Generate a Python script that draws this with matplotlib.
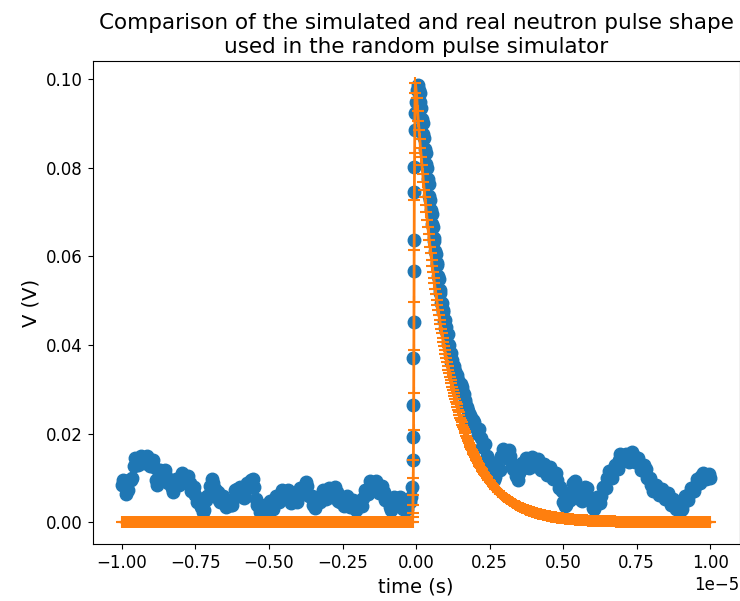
import numpy as np
import matplotlib
matplotlib.use("Agg")
import matplotlib.pyplot as plt

# ================= data (time in units of 1e-5 s, voltage in V) =================
UNIT = 1e-5

# real neutron pulse (measured), baseline before the pulse
real_pre_t = np.round(np.linspace(-1.00, -0.04, 97), 3)
real_pre_v = [
    0.0085, 0.0080, 0.0072, 0.0095, 0.0128, 0.0140, 0.0145, 0.0143, 0.0146, 0.0140,
    0.0138, 0.0125, 0.0085, 0.0118, 0.0110, 0.0104, 0.0092, 0.0078, 0.0082, 0.0090,
    0.0098, 0.0104, 0.0100, 0.0088, 0.0075, 0.0062, 0.0050, 0.0035, 0.0027, 0.0060,
    0.0082, 0.0088, 0.0070, 0.0050, 0.0058, 0.0045, 0.0040, 0.0038, 0.0055, 0.0075,
    0.0079, 0.0058, 0.0070, 0.0085, 0.0095, 0.0080, 0.0040, 0.0023, 0.0030, 0.0027,
    0.0035, 0.0040, 0.0045, 0.0055, 0.0060, 0.0066, 0.0065, 0.0058, 0.0054, 0.0052,
    0.0060, 0.0072, 0.0078, 0.0081, 0.0060, 0.0040, 0.0045, 0.0052, 0.0058, 0.0064,
    0.0066, 0.0068, 0.0070, 0.0068, 0.0045, 0.0046, 0.0049, 0.0047, 0.0042, 0.0038,
    0.0036, 0.0040, 0.0055, 0.0068, 0.0078, 0.0083, 0.0084, 0.0078, 0.0074, 0.0068,
    0.0050, 0.0034, 0.0040, 0.0052, 0.0054, 0.0042, 0.0038,
]
# samples in between (the noise makes the baseline band thick)
real_pre2_t = np.round(np.linspace(-0.995, -0.045, 96), 3)
real_pre2_v = [
    0.0095, 0.0064, 0.0096, 0.0100, 0.0146, 0.0130, 0.0150, 0.0133, 0.0150, 0.0127,
    0.0140, 0.0095, 0.0112, 0.0102, 0.0118, 0.0088, 0.0094, 0.0068, 0.0097, 0.0083,
    0.0112, 0.0091, 0.0104, 0.0070, 0.0080, 0.0045, 0.0052, 0.0022, 0.0050, 0.0062,
    0.0097, 0.0074, 0.0068, 0.0046, 0.0060, 0.0035, 0.0048, 0.0040, 0.0073, 0.0068,
    0.0078, 0.0055, 0.0088, 0.0080, 0.0098, 0.0052, 0.0040, 0.0020, 0.0040, 0.0024,
    0.0048, 0.0031, 0.0060, 0.0046, 0.0073, 0.0054, 0.0072, 0.0044, 0.0063, 0.0045,
    0.0078, 0.0064, 0.0090, 0.0060, 0.0060, 0.0033, 0.0058, 0.0045, 0.0072, 0.0053,
    0.0078, 0.0058, 0.0080, 0.0047, 0.0056, 0.0037, 0.0060, 0.0035, 0.0050, 0.0027,
    0.0048, 0.0036, 0.0072, 0.0063, 0.0092, 0.0072, 0.0092, 0.0065, 0.0082, 0.0050,
    0.0052, 0.0027, 0.0056, 0.0043, 0.0058, 0.0030,
]

# rising edge of the real pulse
real_rise_t = [-0.030, -0.022, -0.016, -0.013, -0.011, -0.010, -0.0095, -0.009, -0.0085,
               -0.008, -0.0075, -0.007, -0.006, -0.005, -0.003, 0.000, 0.004, 0.008]
real_rise_v = [0.0030, 0.0045, 0.0056, 0.0079, 0.0140, 0.0192, 0.0264, 0.0370, 0.0451,
               0.0567, 0.0637, 0.0745, 0.0801, 0.0885, 0.0923, 0.0948, 0.0975, 0.0986]

# decay of the real pulse
real_decay_t = np.round(np.linspace(0.010, 0.200, 39), 4)
real_decay_v = [
    0.0975, 0.0948, 0.0910, 0.0875, 0.0842, 0.0808, 0.0775, 0.0735, 0.0705, 0.0672,
    0.0642, 0.0612, 0.0585, 0.0556, 0.0525, 0.0494, 0.0478, 0.0455, 0.0438, 0.0424,
    0.0402, 0.0380, 0.0362, 0.0348, 0.0335, 0.0325, 0.0316, 0.0305, 0.0300, 0.0298,
    0.0290, 0.0275, 0.0262, 0.0250, 0.0240, 0.0232, 0.0225, 0.0220, 0.0215,
]
real_decay2_t = np.round(np.linspace(0.0125, 0.1975, 38), 4)
real_decay2_v = [
    0.0968, 0.0935, 0.0900, 0.0866, 0.0832, 0.0800, 0.0762, 0.0728, 0.0696,
    0.0665, 0.0635, 0.0606, 0.0580, 0.0548, 0.0518, 0.0495, 0.0475, 0.0456, 0.0440,
    0.0425, 0.0400, 0.0382, 0.0366, 0.0352, 0.0341, 0.0332, 0.0322, 0.0315, 0.0312,
    0.0305, 0.0290, 0.0272, 0.0260, 0.0250, 0.0242, 0.0236, 0.0230, 0.0226,
]

# tail of the real pulse
real_tail_t = np.round(np.linspace(0.21, 1.00, 80), 3)
real_tail_v = [
    0.0200, 0.0190, 0.0175, 0.0150, 0.0130, 0.0105, 0.0102, 0.0120, 0.0150, 0.0156,
    0.0155, 0.0150, 0.0120, 0.0105, 0.0110, 0.0133, 0.0135, 0.0130, 0.0136, 0.0138,
    0.0135, 0.0130, 0.0125, 0.0120, 0.0117, 0.0112, 0.0105, 0.0095, 0.0080, 0.0045,
    0.0040, 0.0050, 0.0070, 0.0092, 0.0075, 0.0050, 0.0065, 0.0077, 0.0055, 0.0032,
    0.0045, 0.0050, 0.0060, 0.0080, 0.0100, 0.0110, 0.0115, 0.0125, 0.0140, 0.0150,
    0.0149, 0.0140, 0.0150, 0.0149, 0.0140, 0.0132, 0.0125, 0.0120, 0.0100, 0.0085,
    0.0075, 0.0072, 0.0068, 0.0065, 0.0060, 0.0052, 0.0045, 0.0040, 0.0035, 0.0028,
    0.0045, 0.0055, 0.0065, 0.0075, 0.0085, 0.0095, 0.0104, 0.0108, 0.0104, 0.0099,
]
real_tail2_t = np.round(np.linspace(0.215, 0.995, 79), 3)
real_tail2_v = [
    0.0210, 0.0170, 0.0176, 0.0128, 0.0135, 0.0095, 0.0124, 0.0118, 0.0165, 0.0145,
    0.0162, 0.0128, 0.0130, 0.0095, 0.0130, 0.0122, 0.0145, 0.0122, 0.0147, 0.0126,
    0.0142, 0.0118, 0.0132, 0.0107, 0.0125, 0.0098, 0.0110, 0.0078, 0.0070, 0.0036,
    0.0055, 0.0050, 0.0088, 0.0075, 0.0070, 0.0048, 0.0080, 0.0058, 0.0052, 0.0030,
    0.0058, 0.0044, 0.0080, 0.0078, 0.0115, 0.0100, 0.0130, 0.0120, 0.0155, 0.0138,
    0.0155, 0.0135, 0.0158, 0.0135, 0.0145, 0.0118, 0.0130, 0.0100, 0.0100, 0.0070,
    0.0085, 0.0062, 0.0076, 0.0052, 0.0066, 0.0040, 0.0052, 0.0030, 0.0040, 0.0030,
    0.0060, 0.0050, 0.0078, 0.0070, 0.0098, 0.0088, 0.0112, 0.0098, 0.0108,
]

# simulated pulse: flat zero before the pulse
sim_pre_t = np.round(np.arange(-1.0, -0.0125, 0.005), 4)
sim_pre_v = np.zeros(len(sim_pre_t))

# simulated pulse: rising edge
sim_rise_t = [-0.0120, -0.0115, -0.0110, -0.0105, -0.0100, -0.0095, -0.0090, -0.0085,
              -0.0080, -0.0075, -0.0070, -0.0065, -0.0060, -0.0050, -0.0035, -0.0020]
sim_rise_v = [0.0000, 0.0011, 0.0020, 0.0038, 0.0061, 0.0099, 0.0140, 0.0208,
              0.0291, 0.0389, 0.0497, 0.0615, 0.0728, 0.0834, 0.0968, 0.0991]

# simulated pulse: decay
sim_decay_t = np.round(np.linspace(0.005, 1.000, 200), 4)
sim_decay_v = [
    0.09277, 0.08850, 0.08442, 0.08053, 0.07682, 0.07328, 0.06990, 0.06668, 0.06361, 0.06068,
    0.05788, 0.05521, 0.05267, 0.05024, 0.04793, 0.04572, 0.04361, 0.04160, 0.03969, 0.03786,
    0.03611, 0.03445, 0.03286, 0.03135, 0.02990, 0.02853, 0.02721, 0.02596, 0.02476, 0.02362,
    0.02253, 0.02150, 0.02051, 0.01956, 0.01866, 0.01780, 0.01698, 0.01620, 0.01545, 0.01474,
    0.01406, 0.01341, 0.01279, 0.01220, 0.01164, 0.01111, 0.01059, 0.01011, 0.00964, 0.00920,
    0.00877, 0.00837, 0.00798, 0.00761, 0.00726, 0.00693, 0.00661, 0.00630, 0.00601, 0.00574,
    0.00547, 0.00522, 0.00498, 0.00475, 0.00453, 0.00432, 0.00412, 0.00393, 0.00375, 0.00358,
    0.00341, 0.00326, 0.00311, 0.00296, 0.00283, 0.00270, 0.00257, 0.00245, 0.00234, 0.00223,
    0.00213, 0.00203, 0.00194, 0.00185, 0.00176, 0.00168, 0.00160, 0.00153, 0.00146, 0.00139,
    0.00133, 0.00127, 0.00121, 0.00115, 0.00110, 0.00105, 0.00100, 0.00095, 0.00091, 0.00087,
    0.00083, 0.00079, 0.00076, 0.00072, 0.00069, 0.00066, 0.00063, 0.00060, 0.00057, 0.00054,
    0.00052, 0.00049, 0.00047, 0.00045, 0.00043, 0.00041, 0.00039, 0.00037, 0.00036, 0.00034,
    0.00032, 0.00031, 0.00029, 0.00028, 0.00027, 0.00026, 0.00024, 0.00023, 0.00022, 0.00021,
    0.00020, 0.00019, 0.00018, 0.00018, 0.00017, 0.00016, 0.00015, 0.00015, 0.00014, 0.00013,
    0.00013, 0.00012, 0.00011, 0.00011, 0.00010, 0.00010, 0.00010, 0.00009, 0.00009, 0.00008,
    0.00008, 0.00008, 0.00007, 0.00007, 0.00007, 0.00006, 0.00006, 0.00006, 0.00005, 0.00005,
    0.00005, 0.00005, 0.00004, 0.00004, 0.00004, 0.00004, 0.00004, 0.00004, 0.00003, 0.00003,
    0.00003, 0.00003, 0.00003, 0.00003, 0.00003, 0.00002, 0.00002, 0.00002, 0.00002, 0.00002,
    0.00002, 0.00002, 0.00002, 0.00002, 0.00002, 0.00002, 0.00001, 0.00001, 0.00001, 0.00001,
    0.00001, 0.00001, 0.00001, 0.00001, 0.00001, 0.00001, 0.00001, 0.00001, 0.00001, 0.00001,
]
# extra simulated samples in the fast part of the decay
sim_decay2_t = np.round(np.linspace(0.0025, 0.2975, 60), 4)
sim_decay2_v = [
    0.09560, 0.09061, 0.08644, 0.08245, 0.07865, 0.07503, 0.07157, 0.06827, 0.06513, 0.06213,
    0.05926, 0.05653, 0.05393, 0.05144, 0.04907, 0.04681, 0.04465, 0.04259, 0.04063, 0.03876,
    0.03697, 0.03527, 0.03365, 0.03210, 0.03062, 0.02921, 0.02786, 0.02658, 0.02535, 0.02418,
    0.02307, 0.02201, 0.02100, 0.02003, 0.01911, 0.01823, 0.01739, 0.01659, 0.01582, 0.01509,
    0.01440, 0.01373, 0.01310, 0.01249, 0.01192, 0.01137, 0.01085, 0.01035, 0.00987, 0.00942,
    0.00898, 0.00857, 0.00817, 0.00779, 0.00743, 0.00709, 0.00677, 0.00645, 0.00615, 0.00587,
]

real_t = np.concatenate([real_pre_t, real_pre2_t, real_rise_t, real_decay_t,
                         real_decay2_t, real_tail_t, real_tail2_t]) * UNIT
real_v = np.concatenate([real_pre_v, real_pre2_v, real_rise_v, real_decay_v,
                         real_decay2_v, real_tail_v, real_tail2_v])

sim_t = np.concatenate([sim_pre_t, sim_rise_t, sim_decay_t, sim_decay2_t])
sim_v = np.concatenate([sim_pre_v, sim_rise_v, sim_decay_v, sim_decay2_v])
order = np.argsort(sim_t, kind='stable')
sim_t = sim_t[order] * UNIT
sim_v = sim_v[order]

# ================= plot =================
fig, ax = plt.subplots(figsize=(7.4, 6.01), dpi=100)
ax.plot(real_t, real_v, 'o', color='#1f77b4', markersize=9)
ax.plot(sim_t, sim_v, '-+', color='#ff7f0e', markersize=9, markeredgewidth=1.5, linewidth=2)

ax.set_title('Comparison of the simulated and real neutron pulse shape\n'
             'used in the random pulse simulator', fontsize=15.5)
ax.set_xlabel('time (s)', fontsize=14)
ax.set_ylabel('V (V)', fontsize=14)
ax.set_xticks(np.arange(-1.0, 1.01, 0.25) * UNIT)
ax.tick_params(labelsize=12)
ax.xaxis.get_offset_text().set_fontsize(12)

fig.subplots_adjust(left=0.125, right=0.9995, bottom=0.0945, top=0.8985)
fig.savefig('out.png', dpi=100)
